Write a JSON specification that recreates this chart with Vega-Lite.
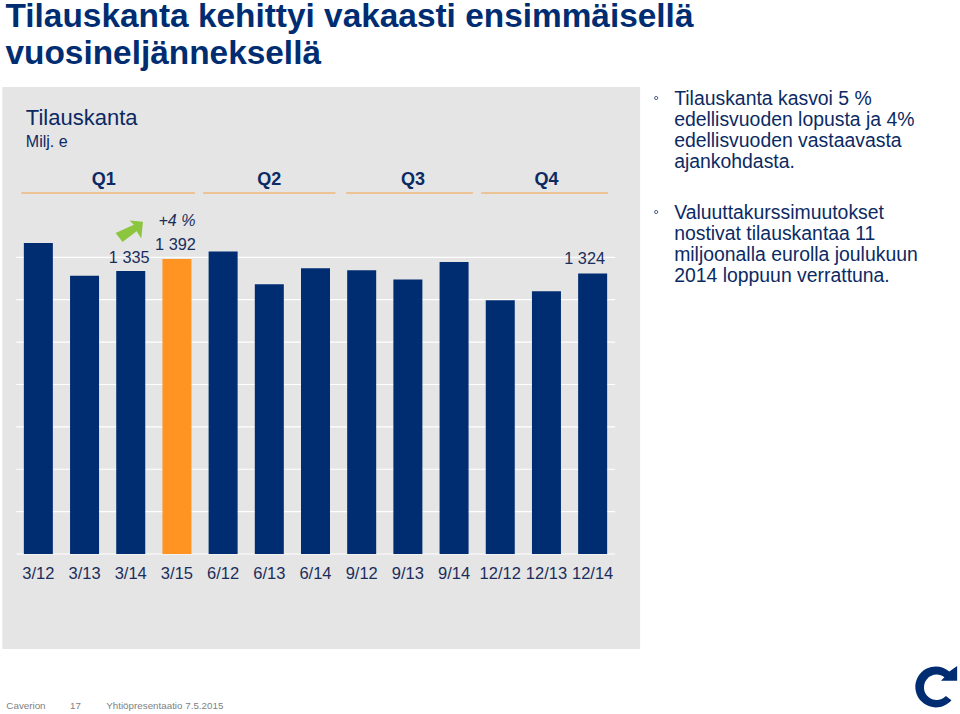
{
"$schema":"https://vega.github.io/schema/vega-lite/v6.json",
"width":599,"height":554,
"autosize":{"type":"none"},
"padding":{"left":16,"top":0,"right":345,"bottom":160},
"background":"#ffffff",
"title":{"text":["Tilauskanta kehittyi vakaasti ensimmäisellä","vuosineljänneksellä"],"anchor":"start","frame":"group","align":"left","baseline":"alphabetic","dx":-10.5,"dy":97.5,"offset":0,"font":"Liberation Sans","fontSize":33.4,"fontWeight":"bold","color":"#002D72","lineHeight":37},
"config":{"view":{"stroke":null},"font":"Liberation Sans","axisY":{"disable":true},"text":{"font":"Liberation Sans","color":"#0B2A63"}},
"layer":[
{"data":{"values":[{"a":"3/12","b":"12/14","top":2204,"bottom":-448}]},"mark":{"type":"rect","color":"#E5E5E5","xOffset":-36,"x2Offset":47.5},
 "encoding":{"x":{"field":"a","type":"ordinal"},"x2":{"field":"b"},"y":{"field":"top","type":"quantitative"},"y2":{"field":"bottom"}}},
{"data":{"values":[{"v":0,"a":"3/12","b":"12/14"},{"v":200,"a":"3/12","b":"12/14"},{"v":400,"a":"3/12","b":"12/14"},{"v":600,"a":"3/12","b":"12/14"},{"v":800,"a":"3/12","b":"12/14"},{"v":1000,"a":"3/12","b":"12/14"},{"v":1200,"a":"3/12","b":"12/14"},{"v":1400,"a":"3/12","b":"12/14"}]},
 "mark":{"type":"rule","color":"#ffffff","strokeWidth":1.2,"xOffset":-22,"x2Offset":22.5},
 "encoding":{"x":{"field":"a","type":"ordinal"},"x2":{"field":"b"},"y":{"field":"v","type":"quantitative"}}},
{"data":{"values":[
{"period":"3/12","value":1468},{"period":"3/13","value":1313},{"period":"3/14","value":1335},{"period":"3/15","value":1392},
{"period":"6/12","value":1428},{"period":"6/13","value":1273},{"period":"6/14","value":1348},
{"period":"9/12","value":1339},{"period":"9/13","value":1295},{"period":"9/14","value":1378},
{"period":"12/12","value":1197},{"period":"12/13","value":1240},{"period":"12/14","value":1324}]},
 "mark":{"type":"bar"},
 "encoding":{
  "x":{"field":"period","type":"ordinal","sort":null,"title":null,
   "scale":{"domain":["3/12","3/13","3/14","3/15","6/12","6/13","6/14","9/12","9/13","9/14","12/12","12/13","12/14"],"paddingInner":0.372,"paddingOuter":0.17},
   "axis":{"title":null,"labelAngle":0,"labelAlign":"center","labelFontSize":16.5,"labelFont":"Liberation Sans","labelColor":"#1B2D5B","labelPadding":19,"ticks":false,"domain":false,"grid":false,"labelOverlap":false}},
  "y":{"field":"value","type":"quantitative","scale":{"domain":[0,2614.4],"nice":false,"zero":false},"axis":null},
  "color":{"condition":{"test":"datum.period==='3/15'","value":"#FF9422"},"value":"#002D72"}}},
{"data":{"values":[{"q":"Q1","a":"3/12","b":"3/15"}]},"mark":{"type":"rule","color":"#EFB77A","strokeWidth":1.5,"xOffset":-17,"x2Offset":18},
 "encoding":{"x":{"field":"a","type":"ordinal"},"x2":{"field":"b"},"y":{"datum":1703.6,"type":"quantitative"}}},
{"data":{"values":[{"q":"Q2","a":"6/12","b":"6/14"}]},"mark":{"type":"rule","color":"#EFB77A","strokeWidth":1.5,"xOffset":-20,"x2Offset":20},
 "encoding":{"x":{"field":"a","type":"ordinal"},"x2":{"field":"b"},"y":{"datum":1703.6,"type":"quantitative"}}},
{"data":{"values":[{"q":"Q3","a":"9/12","b":"9/14"}]},"mark":{"type":"rule","color":"#EFB77A","strokeWidth":1.5,"xOffset":-15.5,"x2Offset":19},
 "encoding":{"x":{"field":"a","type":"ordinal"},"x2":{"field":"b"},"y":{"datum":1703.6,"type":"quantitative"}}},
{"data":{"values":[{"q":"Q4","a":"12/12","b":"12/14"}]},"mark":{"type":"rule","color":"#EFB77A","strokeWidth":1.5,"xOffset":-19,"x2Offset":15.5},
 "encoding":{"x":{"field":"a","type":"ordinal"},"x2":{"field":"b"},"y":{"datum":1703.6,"type":"quantitative"}}},
{"data":{"values":[{"q":"Q1","a":"3/14"}]},"mark":{"type":"text","fontSize":18,"fontWeight":"bold","baseline":"middle","dx":-27},
 "encoding":{"x":{"field":"a","type":"ordinal"},"y":{"datum":1766,"type":"quantitative"},"text":{"field":"q"}}},
{"data":{"values":[{"q":"Q2","a":"6/13"},{"q":"Q4","a":"12/13"}]},"mark":{"type":"text","fontSize":18,"fontWeight":"bold","baseline":"middle"},
 "encoding":{"x":{"field":"a","type":"ordinal"},"y":{"datum":1766,"type":"quantitative"},"text":{"field":"q"}}},
{"data":{"values":[{"q":"Q3","a":"9/13"}]},"mark":{"type":"text","fontSize":18,"fontWeight":"bold","baseline":"middle","dx":5},
 "encoding":{"x":{"field":"a","type":"ordinal"},"y":{"datum":1766,"type":"quantitative"},"text":{"field":"q"}}},
{"data":{"values":[{"a":"3/14","v":1335,"t":"1 335"}]},"mark":{"type":"text","fontSize":16.3,"baseline":"middle","dy":-13,"dx":-1.5,"color":"#1B2D5B"},
 "encoding":{"x":{"field":"a","type":"ordinal"},"y":{"field":"v","type":"quantitative"},"text":{"field":"t"}}},
{"data":{"values":[{"a":"3/15","v":1392,"t":"1 392"}]},"mark":{"type":"text","fontSize":16.3,"baseline":"middle","dy":-14.5,"dx":-1.5,"color":"#1B2D5B"},
 "encoding":{"x":{"field":"a","type":"ordinal"},"y":{"field":"v","type":"quantitative"},"text":{"field":"t"}}},
{"data":{"values":[{"a":"12/14","v":1324,"t":"1 324"}]},"mark":{"type":"text","fontSize":16.3,"baseline":"middle","dy":-14,"dx":-8,"color":"#1B2D5B"},
 "encoding":{"x":{"field":"a","type":"ordinal"},"y":{"field":"v","type":"quantitative"},"text":{"field":"t"}}},
{"data":{"values":[{"a":"3/15","v":1570,"t":"+4 %"}]},"mark":{"type":"text","fontSize":16,"fontStyle":"italic","baseline":"middle","color":"#1B2D5B"},
 "encoding":{"x":{"field":"a","type":"ordinal"},"y":{"field":"v","type":"quantitative"},"text":{"field":"t"}}},
{"data":{"values":[{"a":"3/14","v":1524}]},"mark":{"type":"point","filled":true,"opacity":1,"color":"#8CC63F","size":747,"xOffset":-1.5,"shape":"M .02 -.78 L 1 -.68 L .88 .54 L .54 .02 L -.49 .8 L -1 .15 L .34 -.46 Z"},
 "encoding":{"x":{"field":"a","type":"ordinal"},"y":{"field":"v","type":"quantitative"}}},
{"data":{"values":[{"t":"Tilauskanta","a":"3/12","v":2058}]},"mark":{"type":"text","fontSize":22,"align":"left","baseline":"middle","dx":-12.5},
 "encoding":{"x":{"field":"a","type":"ordinal"},"y":{"field":"v","type":"quantitative"},"text":{"field":"t"}}},
{"data":{"values":[{"t":"Milj. e","a":"3/12","v":1945}]},"mark":{"type":"text","fontSize":16,"align":"left","baseline":"middle","dx":-12.5},
 "encoding":{"x":{"field":"a","type":"ordinal"},"y":{"field":"v","type":"quantitative"},"text":{"field":"t"}}},
{"data":{"values":[{"t":"Tilauskanta kasvoi 5 %\nedellisvuoden lopusta ja 4%\nedellisvuoden vastaavasta\najankohdasta.","a":"12/14","v":2120},{"t":"Valuuttakurssimuutokset\nnostivat tilauskantaa 11\nmiljoonalla eurolla joulukuun\n2014 loppuun verrattuna.","a":"12/14","v":1582}]},
 "mark":{"type":"text","fontSize":19.4,"align":"left","baseline":"alphabetic","lineBreak":"\n","lineHeight":21.2,"dx":81.5},
 "encoding":{"x":{"field":"a","type":"ordinal"},"y":{"field":"v","type":"quantitative"},"text":{"field":"t"}}},
{"data":{"values":[{"a":"12/14","v":2152},{"a":"12/14","v":1614}]},"mark":{"type":"point","filled":false,"color":"#4A5F8A","size":10,"strokeWidth":1,"xOffset":63.5,"opacity":1},
 "encoding":{"x":{"field":"a","type":"ordinal"},"y":{"field":"v","type":"quantitative"}}},
{"data":{"values":[{"t":"Caverion","a":"3/12","v":-731}]},"mark":{"type":"text","fontSize":9.8,"align":"left","baseline":"alphabetic","color":"#7F7F7F","dx":-32},
 "encoding":{"x":{"field":"a","type":"ordinal"},"y":{"field":"v","type":"quantitative"},"text":{"field":"t"}}},
{"data":{"values":[{"t":"17","a":"3/13","v":-731}]},"mark":{"type":"text","fontSize":9.8,"align":"left","baseline":"alphabetic","color":"#7F7F7F","dx":-14.5},
 "encoding":{"x":{"field":"a","type":"ordinal"},"y":{"field":"v","type":"quantitative"},"text":{"field":"t"}}},
{"data":{"values":[{"t":"Yhtiöpresentaatio  7.5.2015","a":"3/14","v":-731}]},"mark":{"type":"text","fontSize":9.8,"align":"left","baseline":"alphabetic","color":"#7F7F7F","dx":-24.5},
 "encoding":{"x":{"field":"a","type":"ordinal"},"y":{"field":"v","type":"quantitative"},"text":{"field":"t"}}},
{"data":{"values":[{"a":"12/14","v":-630}]},"mark":{"type":"point","filled":true,"opacity":1,"color":"#002D72","size":1681,"xOffset":344,"shape":"M .72 .62 A 1 1 0 1 1 .62 -.78 L 1 -1.05 L 1 -.33 L .21 -.33 L .38 -.5 A .62 .62 0 1 0 .45 .42 Z"},
 "encoding":{"x":{"field":"a","type":"ordinal"},"y":{"field":"v","type":"quantitative"}}}
]
}
